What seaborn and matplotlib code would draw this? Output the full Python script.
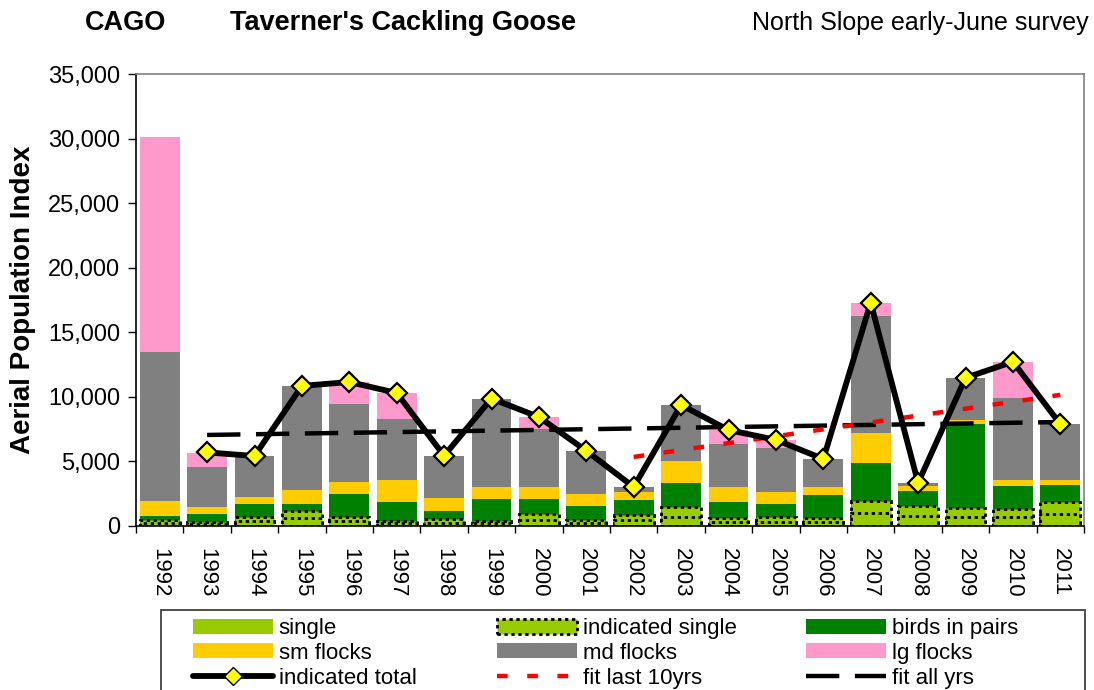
import numpy as np
import pandas as pd
import matplotlib
matplotlib.use("Agg")
import matplotlib.pyplot as plt
import seaborn as sns
from matplotlib.patches import Patch, Rectangle
from matplotlib.lines import Line2D
from matplotlib.ticker import FuncFormatter

# ---------------- data ----------------
years = [1992, 1993, 1994, 1995, 1996, 1997, 1998, 1999, 2000, 2001,
         2002, 2003, 2004, 2005, 2006, 2007, 2008, 2009, 2010, 2011]
single = [250, 170, 360, 595, 360, 205, 270, 200, 465, 230,
          440, 735, 300, 335, 320, 980, 760, 700, 670, 930]
indicated_single_extra = [250, 170, 360, 595, 360, 205, 270, 200, 465, 235,
                          440, 735, 295, 335, 325, 980, 765, 690, 670, 930]
birds_in_pairs = [280, 590, 980, 510, 1760, 1450, 620, 1690, 1160, 1085,
                  1130, 1860, 1265, 1030, 1755, 2920, 1185, 6510, 1760, 1315]
sm_flocks = [1150, 540, 570, 1090, 930, 1700, 1010, 930, 930, 930,
             620, 1700, 1160, 930, 620, 2320, 390, 310, 460, 385]
md_flocks = [11560, 3120, 3150, 8050, 6040, 4725, 3250, 6810, 4490, 3330,
             390, 4340, 3330, 3410, 2170, 9060, 250, 3270, 6375, 4340]
lg_flocks = [16620, 1085, 0, 0, 1680, 2015, 0, 0, 930, 0,
             0, 0, 1080, 620, 0, 1010, 0, 0, 2785, 0]
total_years = [1993, 1994, 1995, 1996, 1997, 1998, 1999, 2000, 2001, 2002,
               2003, 2004, 2005, 2006, 2007, 2008, 2009, 2010, 2011]
indicated_total = [5700, 5420, 10850, 11150, 10300, 5440, 9870, 8440, 5820, 3020,
                   9370, 7430, 6670, 5190, 17290, 3340, 11470, 12720, 7890]
fit_all_years = [1993, 2011]
fit_all_values = [7050, 8050]
fit_last10_years = [2002, 2011]
fit_last10_values = [5350, 10150]

# ---------------- colours ----------------
c_single = "#99CC00"
c_pairs = "#008000"
c_sm = "#FFCC00"
c_md = "#808080"
c_lg = "#FF99CC"

sns.set_theme(style="white")
plt.rcParams["font.family"] = ["Liberation Sans", "DejaVu Sans"]
plt.rcParams.update({"text.color": "black", "axes.labelcolor": "black",
                     "xtick.color": "black", "ytick.color": "black"})

W, H = 1094, 690
fig = plt.figure(figsize=(W / 100, H / 100), dpi=100)
ax = fig.add_axes([136 / W, 1 - 526 / H, (1084 - 136) / W, (526 - 74) / H])

labels = [str(y) for y in years]
layers = np.array([single, indicated_single_extra, birds_in_pairs,
                   sm_flocks, md_flocks, lg_flocks], dtype=float)
cum = np.cumsum(layers, axis=0)

df = pd.DataFrame({"year": labels})
bw = 0.84
dotted = (0, (1.2, 1.3))
# draw from the tallest cumulative stack down
for idx, col in [(5, c_lg), (4, c_md), (3, c_sm), (2, c_pairs)]:
    df["v"] = cum[idx]
    sns.barplot(data=df, x="year", y="v", order=labels, color=col,
                saturation=1, width=bw, errorbar=None, linewidth=0, ax=ax)
df["v"] = cum[1]
sns.barplot(data=df, x="year", y="v", order=labels, color=c_single,
            saturation=1, width=bw, errorbar=None, linewidth=2.0,
            edgecolor="black", linestyle=dotted, ax=ax)
df["v"] = cum[0]
sns.barplot(data=df, x="year", y="v", order=labels, color=c_single,
            saturation=1, width=bw, errorbar=None, linewidth=2.0,
            edgecolor="black", linestyle=dotted, ax=ax)

pos = {y: i for i, y in enumerate(years)}

# fit lines
sns.lineplot(x=[pos[y] for y in fit_all_years], y=fit_all_values, color="black",
             linewidth=3.2, linestyle=(0, (7.5, 3.5)), ax=ax, zorder=5)
sns.lineplot(x=[pos[y] for y in fit_last10_years], y=fit_last10_values, color="#FF0000",
             linewidth=3.2, linestyle=(0, (2.4, 4.4)), ax=ax, zorder=5)
# indicated total
sns.lineplot(x=[pos[y] for y in total_years], y=indicated_total, color="black",
             linewidth=4.2, marker="D", markersize=10, markerfacecolor="#FFFF00",
             markeredgecolor="black", markeredgewidth=1.6, ax=ax, zorder=6)

ax.set_xlim(-0.5, len(years) - 0.5)
ax.set_ylim(0, 35000)
ax.set_yticks(np.arange(0, 35001, 5000))
ax.yaxis.set_major_formatter(FuncFormatter(lambda v, p: f"{int(v):,}"))
ax.set_xticks(range(len(years)))
ax.set_xticklabels(labels, rotation=-90, fontsize=16)
ax.set_xticks(np.arange(-0.5, len(years), 1.0), minor=True)
ax.tick_params(axis="x", which="major", length=0, pad=15.5)
ax.tick_params(axis="x", which="minor", length=5, width=1, color="black", direction="out", bottom=True)
ax.tick_params(axis="y", which="major", length=5.5, width=1, color="black", direction="out", left=True,
               labelsize=17, pad=6)
ax.set_xlabel("")
ax.set_ylabel("")
fig.text(23 / W, 1 - 300 / H, "Aerial Population Index", fontsize=20, fontweight="bold",
         rotation=90, ha="center", va="center")
ax.grid(False)
for s in ["top", "right"]:
    ax.spines[s].set_color("#808080")
    ax.spines[s].set_linewidth(1.2)
for s in ["left", "bottom"]:
    ax.spines[s].set_color("black")
    ax.spines[s].set_linewidth(1.2)

# titles
ty = 1 - 23 / H
fig.text(85 / W, ty, "CAGO", fontsize=19.5, fontweight="bold", va="center", ha="left")
fig.text(230 / W, ty, "Taverner's Cackling Goose", fontsize=19.5, fontweight="bold",
         va="center", ha="left")
fig.text(1089 / W, ty, "North Slope early-June survey", fontsize=18, va="center", ha="right")

# legend
h_single = Patch(facecolor=c_single, edgecolor="none", label="single")
h_ind = Patch(facecolor=c_single, edgecolor="black", linestyle=dotted, linewidth=2.0, label="indicated single")
h_pairs = Patch(facecolor=c_pairs, edgecolor="none", label="birds in pairs")
h_sm = Patch(facecolor=c_sm, edgecolor="none", label="sm flocks")
h_md = Patch(facecolor=c_md, edgecolor="none", label="md flocks")
h_lg = Patch(facecolor=c_lg, edgecolor="none", label="lg flocks")
h_tot = Line2D([], [], color="black", linewidth=4.2, marker="D", markersize=9,
               markerfacecolor="#FFFF00", markeredgecolor="black", label="indicated total")
h_f10 = Line2D([], [], color="#FF0000", linewidth=3.2, linestyle=(0, (2.4, 4.4)), label="fit last 10yrs")
h_fall = Line2D([], [], color="black", linewidth=3.2, linestyle=(0, (7.5, 3.5)), label="fit all yrs")

columns = [[h_single, h_sm, h_tot], [h_ind, h_md, h_f10], [h_pairs, h_lg, h_fall]]
col_x = [193, 497, 806]
for hs, cx in zip(columns, col_x):
    lg = fig.legend(handles=hs, labels=[h.get_label() for h in hs], ncol=1,
                    loc="upper left", bbox_to_anchor=(cx / W, 1 - 618 / H),
                    fontsize=16, frameon=False, handlelength=3.6, handleheight=0.66,
                    handletextpad=0.25, labelspacing=0.17, borderaxespad=0, borderpad=0)
fig.add_artist(Rectangle((161 / W, -0.05), (1085 - 161) / W, 0.05 + (H - 610) / H,
                         transform=fig.transFigure, facecolor="none", edgecolor="#404040",
                         linewidth=1.3))

fig.savefig("out.png", dpi=100)
